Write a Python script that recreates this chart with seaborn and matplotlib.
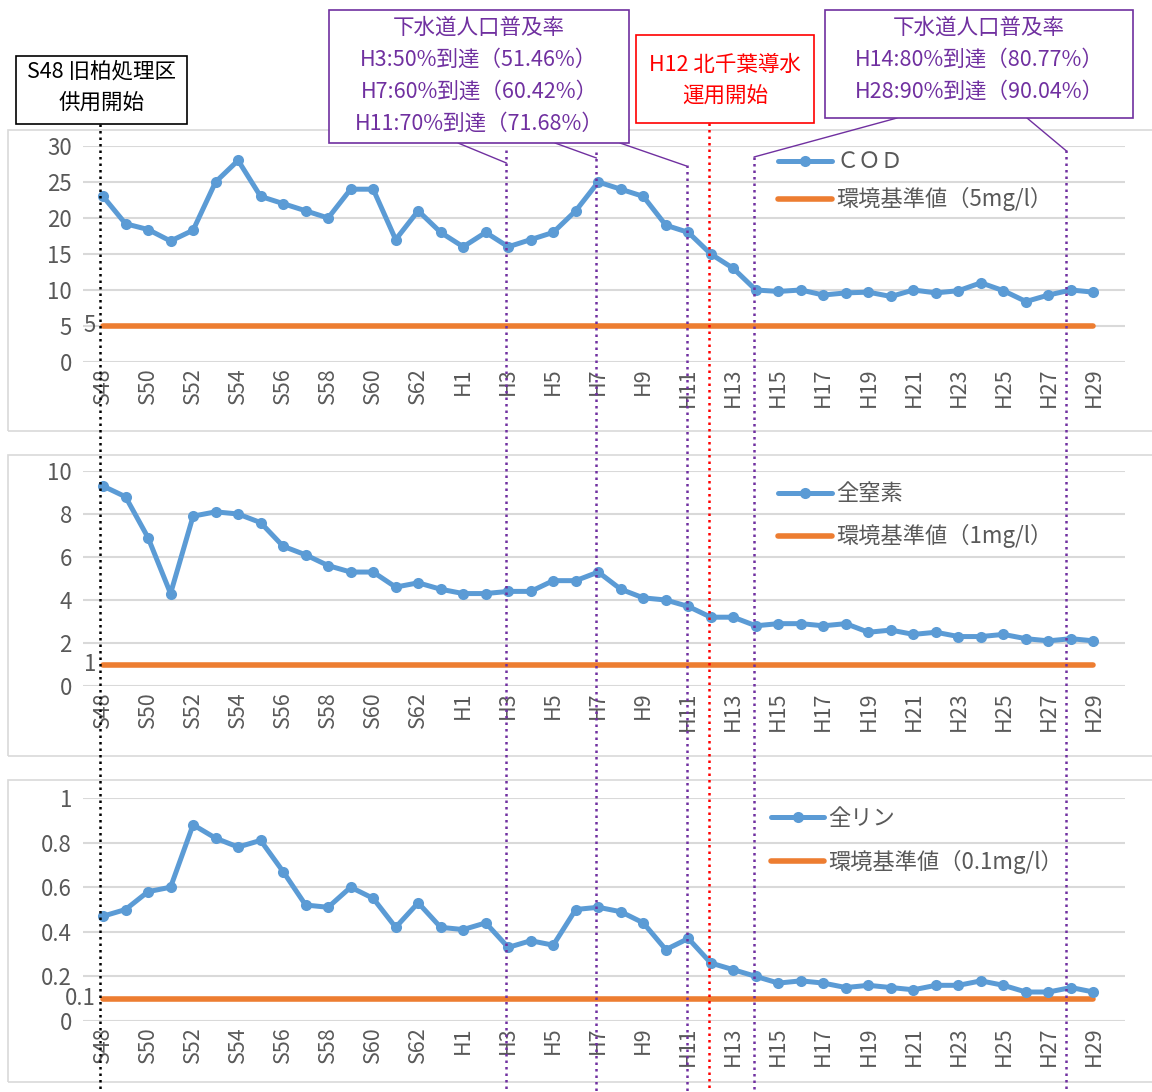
import numpy as np
import pandas as pd
import matplotlib
matplotlib.use("Agg")
import matplotlib.pyplot as plt
from matplotlib.patches import Rectangle
from matplotlib.lines import Line2D
import seaborn as sns

# years S48..S63, H1..H29
years = ["S%d" % y for y in range(48, 64)] + ["H%d" % y for y in range(1, 30)]

cod = [23, 19.2, 18.4, 16.8, 18.3, 25, 28, 23, 22, 21, 20, 24, 24, 17, 21, 18,
       16, 18, 16, 17, 18, 21, 25, 24, 23, 19, 18, 15, 13, 10, 9.8, 10, 9.3, 9.6,
       9.7, 9.1, 10, 9.6, 9.9, 11, 9.9, 8.4, 9.3, 10, 9.7]
tn = [9.3, 8.8, 6.9, 4.3, 7.9, 8.1, 8.0, 7.6, 6.5, 6.1, 5.6, 5.3, 5.3, 4.6, 4.8, 4.5,
      4.3, 4.3, 4.4, 4.4, 4.9, 4.9, 5.3, 4.5, 4.1, 4.0, 3.7, 3.2, 3.2, 2.8, 2.9, 2.9,
      2.8, 2.9, 2.5, 2.6, 2.4, 2.5, 2.3, 2.3, 2.4, 2.2, 2.1, 2.2, 2.1]
tp = [0.47, 0.50, 0.58, 0.60, 0.88, 0.82, 0.78, 0.81, 0.67, 0.52, 0.51, 0.60, 0.55, 0.42, 0.53, 0.42,
      0.41, 0.44, 0.33, 0.36, 0.34, 0.50, 0.51, 0.49, 0.44, 0.32, 0.37, 0.26, 0.23, 0.20, 0.17, 0.18,
      0.17, 0.15, 0.16, 0.15, 0.14, 0.16, 0.16, 0.18, 0.16, 0.13, 0.13, 0.15, 0.13]

panels = [
    ("ＣＯＤ", cod, 5, "5", "環境基準値（5mg/l）", [0, 5, 10, 15, 20, 25, 30], (0, 30)),
    ("全窒素", tn, 1, "1", "環境基準値（1mg/l）", [0, 2, 4, 6, 8, 10], (0, 10)),
    ("全リン", tp, 0.1, "0.1", "環境基準値（0.1mg/l）", [0, 0.2, 0.4, 0.6, 0.8, 1], (0, 1)),
]
tick_fmt = [str, str, lambda v: "0" if v == 0 else ("1" if v == 1 else "%.1f" % v)]

blue = "#5B9BD5"
orange = "#ED7D31"
purple = "#7030A0"
grey = "#595959"

sns.set_style("white")
plt.rcParams['font.family'] = ['Noto Sans CJK JP', 'DejaVu Sans']

W, H = 1152, 1092
fig = plt.figure(figsize=(W / 100, H / 100), dpi=100)


def fx(x):
    return x / W


def fy(y):
    return 1 - y / H


# chart area frames
for top, bot in [(130, 431), (455, 756), (780, 1082)]:
    fig.add_artist(Rectangle((fx(8), fy(bot)), 1.0, (bot - top) / H, transform=fig.transFigure,
                             fill=False, edgecolor="#d9d9d9", lw=1.2))

ax_px = [(146, 362), (471, 686), (798, 1021)]
# legend anchor x, anchor y, label spacing
legend_opts = [(0.648, 1.072, 0.63), (0.648, 1.04, 0.85), (0.641, 1.05, 0.9)]
xpos = np.arange(len(years))
axes = []
for i, (name, vals, std, stdlab, stdname, yt, ylim) in enumerate(panels):
    top, bot = ax_px[i]
    ax = fig.add_axes([fx(83), fy(bot), 1042 / W, (bot - top) / H])
    df = pd.DataFrame({"x": xpos, "v": vals, "std": [std] * len(years)})
    sns.lineplot(data=df, x="x", y="std", ax=ax, color=orange, lw=4.0, label=stdname,
                 solid_capstyle="round")
    sns.lineplot(data=df, x="x", y="v", ax=ax, color=blue, lw=3.6, marker="o", ms=8,
                 markeredgewidth=0, label=name)
    ax.set_xlim(-0.89, 45.4)
    ax.set_ylim(*ylim)
    ax.set_yticks(yt)
    ax.set_yticklabels([tick_fmt[i](v) for v in yt], fontsize=16, color=grey)
    ax.set_xticks(xpos[::2])
    ax.set_xticklabels(years[::2], rotation=90, fontsize=15.5, color=grey)
    ax.tick_params(axis="x", length=0, pad=4)
    ax.tick_params(axis="y", length=0, pad=8)
    ax.set_xlabel("")
    ax.set_ylabel("")
    for s in ax.spines.values():
        s.set_visible(False)
    ax.grid(axis="y", color="#d9d9d9", lw=1.5)
    ax.set_axisbelow(True)
    ax.annotate(stdlab, (0, std), xytext=(-5, 0), textcoords="offset points",
                ha="right", va="center", fontsize=16, color=grey)
    h, l = ax.get_legend_handles_labels()
    lx, ly, ls = legend_opts[i]
    ax.legend(h[::-1], l[::-1], loc="upper left", bbox_to_anchor=(lx, ly),
              frameon=False, fontsize=16, handlelength=2.4, labelspacing=ls,
              handletextpad=0.2, labelcolor=grey)
    axes.append(ax)

# vertical marker lines across all panels
fig.canvas.draw()
ax1 = axes[0]


def xfig(idx):
    disp = ax1.transData.transform((idx, 0))
    return fig.transFigure.inverted().transform(disp)[0]


vlines = [
    (-0.12, 124, "black"),
    (17.92, 150, purple),
    (21.92, 152, purple),
    (25.92, 165, purple),
    (26.92, 123, "red"),
    (28.92, 157, purple),
    (42.8, 150, purple),
]
for idx, ytop, c in vlines:
    x = xfig(idx)
    fig.add_artist(Line2D([x, x], [fy(ytop), 0], transform=fig.transFigure, color=c,
                          lw=1.8, ls=(0, (1, 1.6)), zorder=5))

# connector lines from boxes
for (x0, y0), idx, y1 in [((458, 143), 17.92, 163), ((555, 143), 21.92, 158),
                          ((620, 143), 25.92, 166), ((897, 118), 28.92, 157),
                          ((1027, 118), 42.8, 151)]:
    fig.add_artist(Line2D([fx(x0), xfig(idx)], [fy(y0), fy(y1)], transform=fig.transFigure,
                          color=purple, lw=1.0, zorder=5))

# annotation boxes
boxes = [
    ((16, 56, 187, 124), "black", ["S48 旧柏処理区", "供用開始"], [72, 103]),
    ((329, 10, 629, 143), purple, ["下水道人口普及率", "H3:50%到達（51.46%）",
                                   "H7:60%到達（60.42%）", "H11:70%到達（71.68%）"], [28, 60, 92, 124]),
    ((636, 35, 814, 123), "red", ["H12 北千葉導水", "運用開始"], [65, 97]),
    ((825, 10, 1133, 118), purple, ["下水道人口普及率", "H14:80%到達（80.77%）",
                                    "H28:90%到達（90.04%）"], [28, 60, 92]),
]
for (x0, y0, x1, y1), c, lines, ys in boxes:
    fig.add_artist(Rectangle((fx(x0), fy(y1)), (x1 - x0) / W, (y1 - y0) / H,
                             transform=fig.transFigure, facecolor="white", edgecolor=c,
                             lw=1.2, zorder=10))
    cx = fx((x0 + x1) / 2)
    for t, yy in zip(lines, ys):
        fig.text(cx, fy(yy), t, ha="center", va="center", fontsize=15.5, color=c, zorder=11)

fig.savefig("out.png", dpi=100)
